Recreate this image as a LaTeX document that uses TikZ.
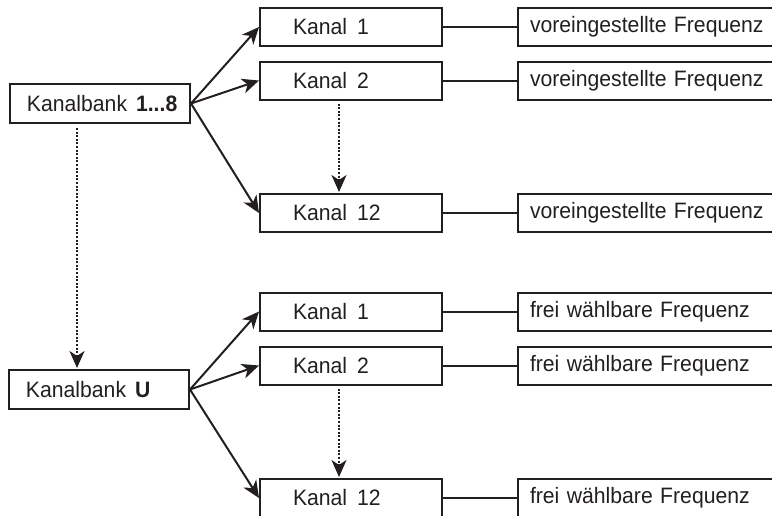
\documentclass[tikz,border=0pt]{standalone}
\usepackage{fontspec}
\setmainfont{Liberation Sans}[FakeStretch=0.95]
\usetikzlibrary{arrows.meta,calc}
\definecolor{ink}{HTML}{231F20}
\begin{document}
\begin{tikzpicture}[x=1pt,y=-1pt,
  box/.style={draw=ink,line width=2pt,rectangle,inner sep=0pt,font=\fontsize{22.3}{25}\selectfont,text=ink},
  bankbox/.style={box,minimum width=180pt,minimum height=39pt},
  kanbox/.style={box,minimum width=182pt,minimum height=38pt,text width=116pt,align=left},
  freqbox/.style={box,minimum width=262pt,minimum height=38pt,text width=238pt,align=left},
  arr/.style={line width=2pt,draw=ink,-{Stealth[length=17pt,width=15pt,inset=5pt]}},
  dotarr/.style={line width=2pt,draw=ink,dash pattern=on 2pt off 1.6pt,-{Stealth[length=17pt,width=15pt,inset=5pt]}},
  link/.style={line width=2pt,draw=ink}]
\useasboundingbox (0,0) rectangle (772,515);
\clip (0,0) rectangle (772,515);
% upper group
\node[bankbox] (kb1) at (100,103.5) {\makebox[146pt][l]{Kanalbank\hspace{0.4em}\textbf{1...8}}};
\node[kanbox] (k1) at (351,27) {Kanal\hspace{0.45em}1};
\node[kanbox] (k2) at (351,80.5) {Kanal\hspace{0.45em}2};
\node[kanbox] (k12) at (351,213) {Kanal\hspace{0.45em}12};
\node[freqbox] (f1) at (649,27) {voreingestellte Frequenz};
\node[freqbox] (f2) at (649,80.5) {voreingestellte Frequenz};
\node[freqbox] (f12) at (649,213) {voreingestellte Frequenz};
% lower group
\node[bankbox] (kbU) at (99,389.5) {\makebox[146pt][l]{Kanalbank\hspace{0.4em}\textbf{U}}};
\node[kanbox] (u1) at (351,311.5) {Kanal\hspace{0.45em}1};
\node[kanbox] (u2) at (351,365.5) {Kanal\hspace{0.45em}2};
\node[kanbox] (u12) at (351,498) {Kanal\hspace{0.45em}12};
\node[freqbox] (g1) at (649,311.5) {frei wählbare Frequenz};
\node[freqbox] (g2) at (649,365.5) {frei wählbare Frequenz};
\node[freqbox] (g12) at (649,498) {frei wählbare Frequenz};
% links
\foreach \a/\b in {k1/f1,k2/f2,k12/f12,u1/g1,u2/g2,u12/g12}
  \draw[link] (\a.east) -- (\b.west);
% arrows
\draw[arr] (kb1.east) -- (k1.west);
\draw[arr] (kb1.east) -- (k2.west);
\draw[arr] (kb1.east) -- (k12.west);
\draw[arr] (kbU.east) -- (u1.west);
\draw[arr] (kbU.east) -- (u2.west);
\draw[arr] (kbU.east) -- (u12.west);
% dotted arrows
\coordinate (d1s) at ($(k2.south)+(-12,3)$);
\coordinate (d1e) at ($(k12.north)+(-12,-1)$);
\draw[dotarr] (d1s) -- (d1e);
\coordinate (d2s) at ($(u2.south)+(-12,3)$);
\coordinate (d2e) at ($(u12.north)+(-12,-1)$);
\draw[dotarr] (d2s) -- (d2e);
\coordinate (d3s) at ($(kb1.south)+(-23,4)$);
\coordinate (d3e) at ($(kbU.north)+(-22,-1)$);
\draw[dotarr] (d3s) -- (d3e);
\end{tikzpicture}
\end{document}
